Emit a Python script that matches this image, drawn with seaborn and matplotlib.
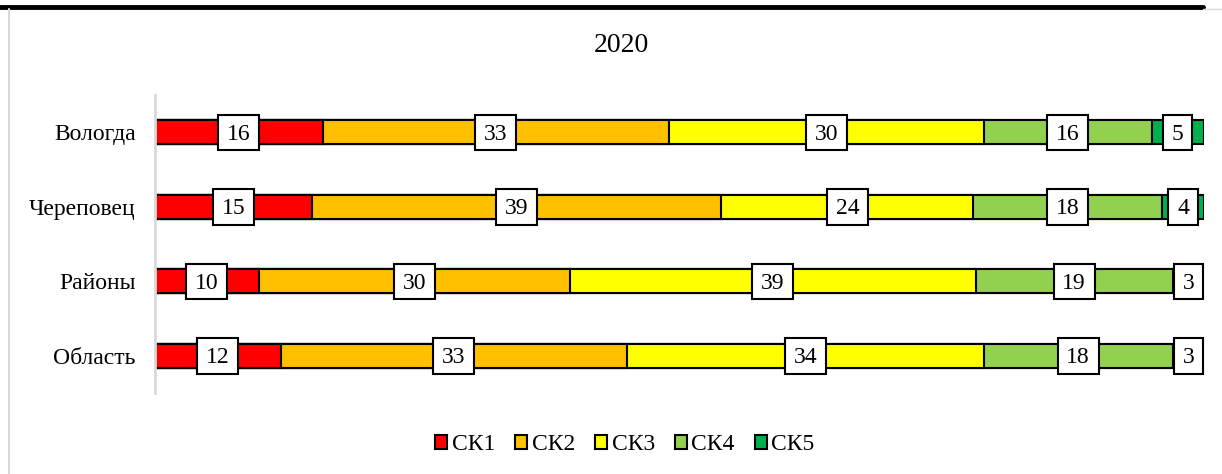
import matplotlib
matplotlib.use("Agg")
import matplotlib.pyplot as plt
from matplotlib.patches import Patch
from matplotlib.lines import Line2D
from matplotlib.path import Path
import matplotlib.transforms as mtransforms
import seaborn as sns
import numpy as np
import pandas as pd

categories = ["Вологда", "Череповец", "Районы", "Область"]
series_names = ["СК1", "СК2", "СК3", "СК4", "СК5"]
sk1 = [16, 15, 10, 12]
sk2 = [33, 39, 30, 33]
sk3 = [30, 24, 39, 34]
sk4 = [16, 18, 19, 18]
sk5 = [5, 4, 3, 3]
colors = ["#FF0000", "#FFC000", "#FFFF00", "#92D050", "#00B050"]
title = "2020"

sns.set_theme(style="white")
plt.rcParams["font.family"] = ["Liberation Serif", "DejaVu Serif"]

values = np.array([sk1, sk2, sk3, sk4, sk5], dtype=float)
totals = values.sum(axis=0)
pct = values / totals * 100.0
cum = np.cumsum(pct, axis=0)

fig = plt.figure(figsize=(12.22, 4.74), dpi=100)
ax = fig.add_axes([155 / 1222, 1 - 393 / 474, (1204 - 155) / 1222, (393 - 95) / 474])

bar_h = 0.32
for i in range(len(series_names) - 1, -1, -1):
    df = pd.DataFrame({"cat": categories, "val": cum[i]})
    sns.barplot(data=df, y="cat", x="val", orient="h", color=colors[i],
                width=bar_h, edgecolor="black", linewidth=1.5,
                saturation=1, ax=ax, errorbar=None)


def label_box(x0, y0, width, height, mutation_size):
    # asymmetric padding so that digits sit in the middle of the box
    padx = 0.37 * mutation_size
    pad_top = 0.40 * mutation_size
    pad_bot = 0.22 * mutation_size
    xa, xb = x0 - padx, x0 + width + padx
    ya, yb = y0 - pad_bot, y0 + height + pad_top
    return Path([(xa, ya), (xb, ya), (xb, yb), (xa, yb), (xa, ya)], closed=True)


fs = 17
text_shift = mtransforms.offset_copy(ax.transData, fig=fig, x=0, y=-1.6, units="points")
for i in range(len(series_names)):
    left = cum[i] - pct[i]
    for j in range(len(categories)):
        xc = float(left[j] + pct[i][j] / 2)
        lab = str(int(values[i][j]))
        ax.text(xc, j, lab, ha="center", va="center", fontsize=fs, color="black",
                transform=text_shift, zorder=6,
                bbox=dict(boxstyle=label_box, facecolor="white",
                          edgecolor="black", linewidth=1.5))

ax.set_xlim(0, 100)
ax.set_ylim(3.5, -0.5)
ax.set_xlabel("")
ax.set_ylabel("")
ax.set_xticks([])
for s in ["top", "right", "bottom"]:
    ax.spines[s].set_visible(False)
ax.spines["left"].set_color("#d9d9d9")
ax.spines["left"].set_linewidth(2)
ax.tick_params(axis="y", length=0, pad=14, labelsize=fs, labelcolor="black")

fig.text(621 / 1222, 1 - 46 / 474, title, ha="center", va="center", fontsize=20, color="black")

handles = [Patch(facecolor=c, edgecolor="black", linewidth=1.5) for c in colors]
fig.legend(handles, series_names, loc="center", bbox_to_anchor=(625 / 1222, 1 - 445 / 474),
           ncol=5, frameon=False, fontsize=fs, handlelength=0.5, handleheight=0.5,
           handletextpad=0.2, columnspacing=0.85, labelcolor="black")

fig.add_artist(Line2D([0, 1203 / 1222], [1 - 7 / 474, 1 - 7 / 474], color="black", linewidth=3.5,
                      transform=fig.transFigure))
fig.add_artist(Line2D([1203 / 1222, 1], [1 - 9 / 474, 1 - 9 / 474], color="#d9d9d9", linewidth=1,
                      transform=fig.transFigure))
fig.add_artist(Line2D([9 / 1222, 9 / 1222], [0, 1 - 9 / 474], color="#d9d9d9", linewidth=1.5,
                      transform=fig.transFigure))

fig.savefig("out.png", dpi=100, facecolor="white")
